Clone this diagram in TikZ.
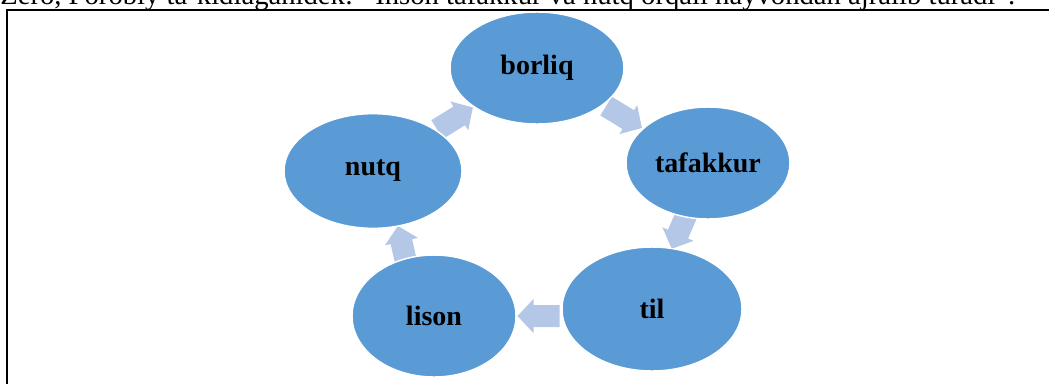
\documentclass[tikz,border=0pt]{standalone}
\usepackage{fontspec}
\setmainfont{Liberation Serif}
\usetikzlibrary{shapes.geometric}
\definecolor{ellfill}{HTML}{5B9BD5}
\definecolor{arrfill}{HTML}{B4C7E7}
\tikzset{
  ell/.style={ellipse, fill=ellfill, draw=white, line width=1.1pt, inner sep=0pt,
              font=\fontsize{21}{25}\selectfont\bfseries, text=black},
  barrow/.pic={\fill[arrfill] (-21,-11) -- (5,-11) -- (5,-17) -- (21,0) -- (5,17) -- (5,11) -- (-21,11) -- cycle;},
  frame/.style={line width=1.5pt, black},
}
\begin{document}
\begin{tikzpicture}[x=0.75pt, y=-0.75pt]
\useasboundingbox (0,0) rectangle (1049,383);
% cut-off line of the text above
\node[anchor=base west, inner sep=0pt, font=\fontsize{21.5}{25}\selectfont] (top) at (0,4.5)
  {Zero, Forobiy ta'kidlaganidek: “Inson tafakkur va nutq orqali hayvondan ajralib turadi”.};
% frame
\draw[frame] (7,390) -- (7,10) -- (1049,10);
% arrows
\pic[rotate=31.7]   (a1) at (455,118.5) {barrow};
\pic[rotate=-31.4]  (a2) at (624,117) {barrow};
\pic[rotate=-113.4] (a3) at (680,229.5) {barrow};
\pic[rotate=180]    (a4) at (538.5,316) {barrow};
\pic[rotate=102.7]  (a5) at (402.5,246.5) {barrow};
% ellipses
\node[ell, minimum width=130.5pt, minimum height=84pt] (borliq) at (537,68) {borliq};
\node[ell, minimum width=123pt, minimum height=84pt] (tafakkur) at (708,163) {tafakkur};
\node[ell, minimum width=135pt, minimum height=93pt] (til) at (652,309) {til};
\node[ell, minimum width=123pt, minimum height=91.5pt] (lison) at (434,316) {lison};
\node[ell, minimum width=133.5pt, minimum height=86pt] (nutq) at (373,171) {nutq};
\end{tikzpicture}
\end{document}
